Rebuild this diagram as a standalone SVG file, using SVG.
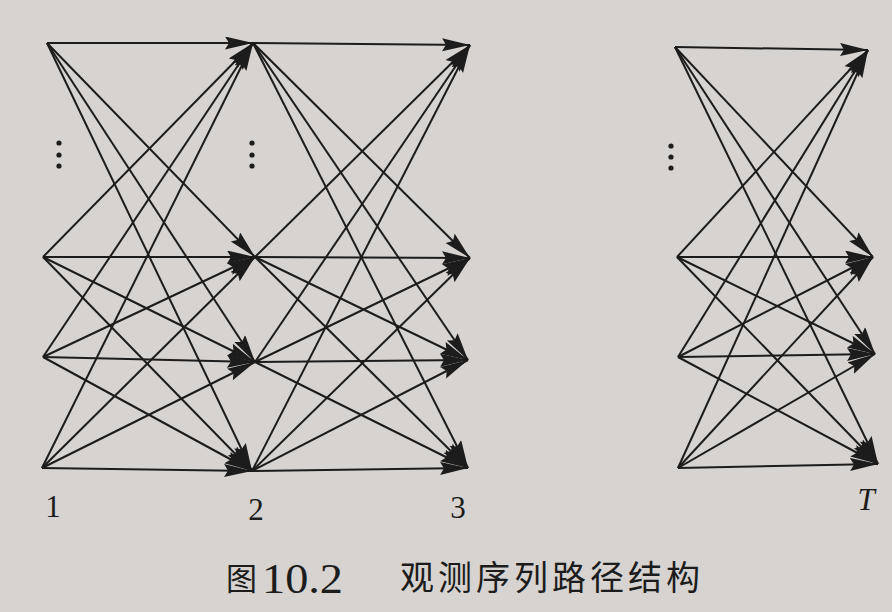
<svg xmlns="http://www.w3.org/2000/svg" width="892" height="612" viewBox="0 0 892 612">
<style>
.e{stroke:#1c1c1c;stroke-width:2;fill:none;marker-end:url(#ah)}
.lbl{font-family:"Liberation Serif",serif;font-size:31px;fill:#1c1c1c;text-anchor:middle}
.dot{fill:#1c1c1c}
.cap{font-family:"Liberation Serif",serif;fill:#1c1c1c}
.capzh{font-family:"Noto Sans CJK SC",sans-serif;fill:#1c1c1c;font-size:34px}
</style>
<defs>
<marker id="ah" markerUnits="userSpaceOnUse" markerWidth="30" markerHeight="14" refX="28" refY="6.5" orient="auto" viewBox="0 0 30 14">
<path d="M0,0 L28,6.5 L0,13 L4,6.5 z" fill="#1c1c1c"/>
</marker>
</defs>
<rect width="892" height="612" fill="#d6d3d0"/>
<g id="connectors">
<line class="e" x1="47" y1="43" x2="253" y2="43"/>
<line class="e" x1="47" y1="43" x2="255" y2="257"/>
<line class="e" x1="47" y1="43" x2="255" y2="362"/>
<line class="e" x1="47" y1="43" x2="252" y2="471"/>
<line class="e" x1="43" y1="257" x2="253" y2="43"/>
<line class="e" x1="43" y1="257" x2="255" y2="257"/>
<line class="e" x1="43" y1="257" x2="255" y2="362"/>
<line class="e" x1="43" y1="257" x2="252" y2="471"/>
<line class="e" x1="43" y1="357" x2="253" y2="43"/>
<line class="e" x1="43" y1="357" x2="255" y2="257"/>
<line class="e" x1="43" y1="357" x2="255" y2="362"/>
<line class="e" x1="43" y1="357" x2="252" y2="471"/>
<line class="e" x1="42" y1="468" x2="253" y2="43"/>
<line class="e" x1="42" y1="468" x2="255" y2="257"/>
<line class="e" x1="42" y1="468" x2="255" y2="362"/>
<line class="e" x1="42" y1="468" x2="252" y2="471"/>

<line class="e" x1="253" y1="43" x2="470" y2="45"/>
<line class="e" x1="253" y1="43" x2="470" y2="258"/>
<line class="e" x1="253" y1="43" x2="468" y2="360"/>
<line class="e" x1="253" y1="43" x2="468" y2="468"/>
<line class="e" x1="255" y1="257" x2="470" y2="45"/>
<line class="e" x1="255" y1="257" x2="470" y2="258"/>
<line class="e" x1="255" y1="257" x2="468" y2="360"/>
<line class="e" x1="255" y1="257" x2="468" y2="468"/>
<line class="e" x1="255" y1="362" x2="470" y2="45"/>
<line class="e" x1="255" y1="362" x2="470" y2="258"/>
<line class="e" x1="255" y1="362" x2="468" y2="360"/>
<line class="e" x1="255" y1="362" x2="468" y2="468"/>
<line class="e" x1="252" y1="471" x2="470" y2="45"/>
<line class="e" x1="252" y1="471" x2="470" y2="258"/>
<line class="e" x1="252" y1="471" x2="468" y2="360"/>
<line class="e" x1="252" y1="471" x2="468" y2="468"/>

<line class="e" x1="675" y1="47" x2="868" y2="50"/>
<line class="e" x1="675" y1="47" x2="873" y2="257"/>
<line class="e" x1="675" y1="47" x2="875" y2="354"/>
<line class="e" x1="675" y1="47" x2="878" y2="464"/>
<line class="e" x1="677" y1="257" x2="868" y2="50"/>
<line class="e" x1="677" y1="257" x2="873" y2="257"/>
<line class="e" x1="677" y1="257" x2="875" y2="354"/>
<line class="e" x1="677" y1="257" x2="878" y2="464"/>
<line class="e" x1="678" y1="357" x2="868" y2="50"/>
<line class="e" x1="678" y1="357" x2="873" y2="257"/>
<line class="e" x1="678" y1="357" x2="875" y2="354"/>
<line class="e" x1="678" y1="357" x2="878" y2="464"/>
<line class="e" x1="678" y1="468" x2="868" y2="50"/>
<line class="e" x1="678" y1="468" x2="873" y2="257"/>
<line class="e" x1="678" y1="468" x2="875" y2="354"/>
<line class="e" x1="678" y1="468" x2="878" y2="464"/>
</g>
<g id="col1">
<circle class="dot" cx="59" cy="143" r="2.6"/>
<circle class="dot" cx="59" cy="155" r="2.6"/>
<circle class="dot" cx="59" cy="166" r="2.6"/>
<text class="lbl" x="53" y="517">1</text>
</g>
<g id="col2">
<circle class="dot" cx="252" cy="143" r="2.6"/>
<circle class="dot" cx="252" cy="155" r="2.6"/>
<circle class="dot" cx="252" cy="166" r="2.6"/>
<text class="lbl" x="256" y="520">2</text>
</g>
<g id="col3">
<text class="lbl" x="458" y="518">3</text>
</g>
<g id="colTm1">
<circle class="dot" cx="671" cy="146" r="2.6"/>
<circle class="dot" cx="671" cy="157" r="2.6"/>
<circle class="dot" cx="671" cy="168" r="2.6"/>
</g>
<g id="colT">
<text class="lbl" x="866" y="510" font-style="italic">T</text>
</g>
<g id="caption">
<text class="capzh" x="226" y="590" font-size="31" style="font-size:31px">图</text>
<text class="cap" x="262" y="593" font-size="42" textLength="81" lengthAdjust="spacingAndGlyphs">10.2</text>
<text class="capzh" x="400" y="590" textLength="300" lengthAdjust="spacing">观测序列路径结构</text>
</g>
</svg>
